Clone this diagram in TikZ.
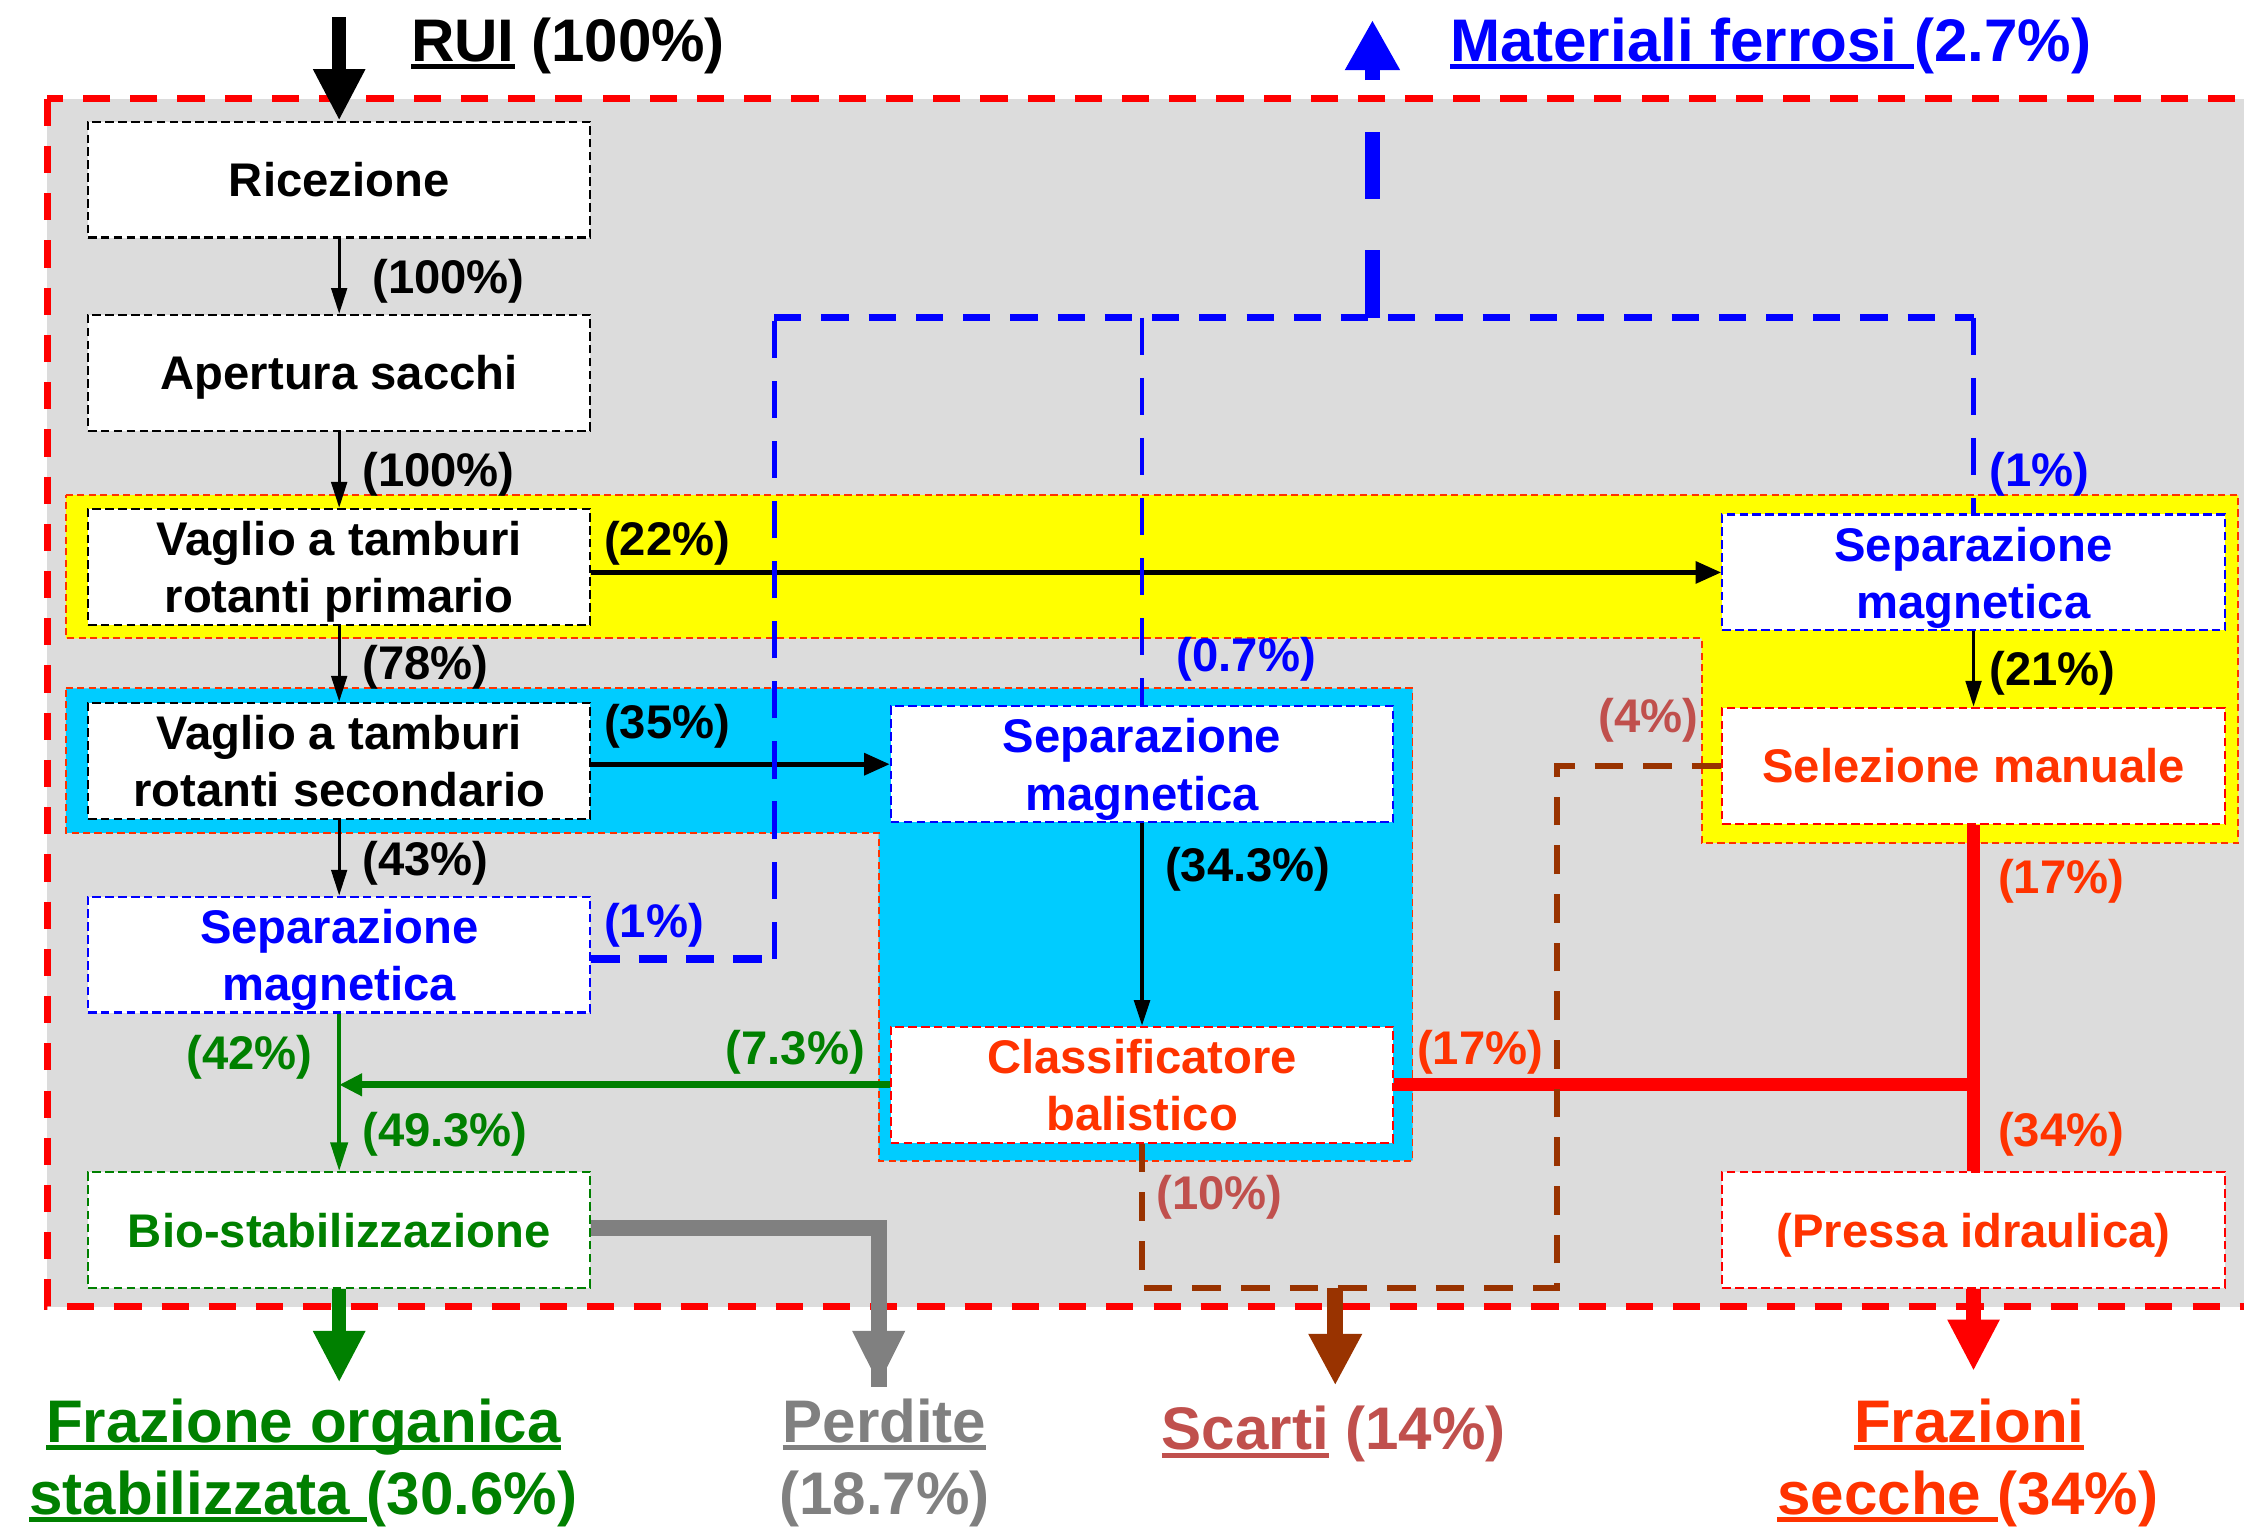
\documentclass[tikz,border=0pt]{standalone}
\usepackage{fontspec}
\setmainfont{Liberation Sans}
\usetikzlibrary{arrows.meta}
\definecolor{bgrey}{HTML}{DCDCDC}
\definecolor{cyanb}{HTML}{00CCFF}
\definecolor{yel}{HTML}{FFFF00}
\definecolor{ored}{HTML}{FF3300}
\definecolor{dgreen}{HTML}{008000}
\definecolor{mred}{HTML}{C0504D}
\definecolor{brn}{HTML}{993300}
\definecolor{gry}{HTML}{808080}
\definecolor{pblue}{HTML}{0000FF}
\definecolor{pred}{HTML}{FF0000}
\newcommand{\myul}[1]{\setbox0\hbox{#1}\rlap{\rule[-5.5pt]{\wd0}{3.5pt}}\box0\relax}
\tikzset{
  procbox/.style={draw=#1, fill=white, minimum width=351pt, minimum height=81pt,
    inner sep=0pt, align=center, line width=1.5pt, dash pattern=on 6pt off 3pt,
    text height=24pt, text depth=0pt},
  twoline/.style={text height=64pt, text depth=0pt},
  lab/.style={anchor=base west, inner sep=0pt},
  bigl/.style={font=\bfseries\fontsize{42}{50}\selectfont, inner sep=0pt, anchor=base},
  regionb/.style={draw=ored, line width=1.3pt, dash pattern=on 5pt off 3pt},
  thinarr/.style={line width=2pt, -{Triangle[width=11pt,length=18pt]}},
  midarr/.style={line width=3.5pt, -{Triangle[width=15pt,length=18pt]}},
  fatarr/.style={line width=10pt, -{Triangle[width=34pt,length=36pt]}},
  bdash/.style={pblue, dash pattern=on 20pt off 14pt},
  brdash/.style={brn, line width=4pt, dash pattern=on 20pt off 14pt},
}
\begin{document}
\begin{tikzpicture}[x=1pt,y=-1pt, font=\bfseries\fontsize{33}{40}\selectfont]
\useasboundingbox (0,0) rectangle (1568,1067);
\clip (0,0) rectangle (1568,1067);
% outer frame
\draw[pred, line width=5pt, dash pattern=on 19pt off 14pt, fill=bgrey] (33,69) rectangle (1620,913);
% coloured regions
\draw[regionb, fill=yel] (46,346) -- (1564,346) -- (1564,589) -- (1189,589) -- (1189,446) -- (46,446) -- cycle;
\draw[regionb, fill=cyanb] (46,481) -- (987,481) -- (987,811) -- (614,811) -- (614,582) -- (46,582) -- cycle;

% boxes
\node[procbox=black] (ric) at (237,125.5) {Ricezione};
\node[procbox=black] (ape) at (237,260.5) {Apertura sacchi};
\node[procbox=black, twoline] (vp) at (237,396) {Vaglio a tamburi\\rotanti primario};
\node[procbox=black, twoline] (vs) at (237,531.5) {Vaglio a tamburi\\rotanti secondario};
\node[procbox=pblue, text=pblue, twoline] (sml) at (237,667) {Separazione\\magnetica};
\node[procbox=dgreen, text=dgreen] (bio) at (237,859.5) {Bio-stabilizzazione};
\node[procbox=pblue, text=pblue, twoline] (smm) at (798,534) {Separazione\\magnetica};
\node[procbox=pred, text=ored, twoline] (cls) at (798,758) {Classificatore\\balistico};
\node[procbox=pblue, text=pblue, twoline] (smr) at (1379,400) {Separazione\\magnetica};
\node[procbox=pred, text=ored] (sel) at (1379,535) {Selezione manuale};
\node[procbox=pred, text=ored] (pre) at (1379,859.5) {(Pressa idraulica)};

% coordinates
\coordinate (ruitop) at (237,12);
\coordinate (f1) at (541,670);
\coordinate (f2) at (541,222);
\coordinate (f3) at (1379,222);
\coordinate (f4) at (798,222);
\coordinate (f5) at (959,222);
\coordinate (f6) at (959,14);
\coordinate (b1) at (798,900);
\coordinate (b2) at (1088,900);
\coordinate (sc1) at (933,900);
\coordinate (sc2) at (933,968);
\coordinate (pc) at (614,858);
\coordinate (pend) at (614,968);
\coordinate (bioend) at (237,966);
\coordinate (preend) at (1379,958);

% black flows
\draw[fatarr] (ruitop) -- (ric.north);
\draw[thinarr] (ric.south) -- (ape.north);
\draw[thinarr] (ape.south) -- (vp.north);
\draw[thinarr] (vp.south) -- (vs.north);
\draw[thinarr] (vs.south) -- (sml.north);
\draw[midarr] (vp.east |- smr.west) -- (smr.west);
\draw[midarr] (vs.east |- smm.west) -- (smm.west);
\draw[line width=2.5pt, -{Triangle[width=11pt,length=18pt]}] (smm.south) -- (cls.north);
\draw[thinarr] (smr.south) -- (sel.north);

% blue ferrous network
\draw[bdash, line width=6pt, dash pattern=on 20pt off 13pt] (sml.east |- f1) -- (f1);
\draw[bdash, line width=3.5pt, dash pattern=on 26pt off 16pt] (f1) -- (f2);
\draw[bdash, line width=5pt, dash pattern=on 19pt off 14pt] (f2) -- (f3);
\draw[bdash, line width=3pt, dash pattern=on 26pt off 16pt] (f3) -- (smr.north);
\draw[bdash, line width=3pt, dash pattern=on 26pt off 16pt] (f4) -- (smm.north);
\draw[pblue, line width=11pt, dash pattern=on 47pt off 36pt, -{Triangle[width=36pt,length=35pt]}] (f5) -- (f6);

% green flows
\draw[dgreen, line width=2.5pt, -{Triangle[width=12pt,length=20pt]}] (sml.south) -- (bio.north);
\draw[dgreen, line width=5pt, -{Triangle[width=15pt,length=16pt]}] (cls.west) -- (cls.west -| sml.south);
\draw[dgreen, fatarr] (bio.south) -- (bioend);

% grey losses
\draw[gry, line width=11pt] (bio.east |- pc) -- (pc) -- ([yshift=-1pt]pend);
\draw[gry, -{Triangle[width=34pt,length=38pt]}, line width=11pt] ([yshift=40pt]pend) -- (pend);

% red dry fractions
\draw[pred, line width=9pt] (cls.east) -- (cls.east -| sel.south);
\draw[pred, line width=9pt] (sel.south) -- (pre.north);
\draw[pred, fatarr] (pre.south) -- (preend);

% brown rejects
\draw[brdash] (cls.south) -- (b1) -- (b2) -- (sel.west -| b2) -- (sel.west);
\draw[brn, line width=11pt, -{Triangle[width=35pt,length=36pt]}] (sc1) -- (sc2);

% flow labels
\node[lab] (l1) at (260,205) {(100\%)};
\node[lab] (l2) at (253,340) {(100\%)};
\node[lab] (l3) at (422,388) {(22\%)};
\node[lab] (l4) at (253,475) {(78\%)};
\node[lab] (l5) at (422,516) {(35\%)};
\node[lab] (l6) at (253,612) {(43\%)};
\node[lab, text=pblue] (l7) at (422,655) {(1\%)};
\node[lab, text=pblue] (l8) at (822,469) {(0.7\%)};
\node[lab, text=pblue] (l9) at (1390,340) {(1\%)};
\node[lab] (l10) at (1390,479) {(21\%)};
\node[lab] (l11) at (814,616) {(34.3\%)};
\node[lab, text=mred] (l12) at (1117,512) {(4\%)};
\node[lab, text=ored] (l13) at (1396,624) {(17\%)};
\node[lab, text=ored] (l14) at (990,744) {(17\%)};
\node[lab, text=dgreen] (l15) at (507,744) {(7.3\%)};
\node[lab, text=dgreen] (l16) at (130,747) {(42\%)};
\node[lab, text=dgreen] (l17) at (253,801) {(49.3\%)};
\node[lab, text=mred] (l18) at (808,845) {(10\%)};
\node[lab, text=ored] (l19) at (1396,801) {(34\%)};

% titles
\node[bigl, anchor=base west] (rui) at (287,43) {\myul{RUI} (100\%)};
\node[bigl, anchor=base west, text=pblue] (fer) at (1013,43) {\myul{Materiali ferrosi\ }(2.7\%)};
\node[bigl, text=dgreen] (o1) at (212,1008) {\myul{Frazione organica}};
\node[bigl, text=dgreen] (o2) at (212,1058) {\myul{stabilizzata\ }(30.6\%)};
\node[bigl, text=gry] (p1) at (618,1008) {\myul{Perdite}};
\node[bigl, text=gry] (p2) at (618,1058) {(18.7\%)};
\node[bigl, text=mred] (s1) at (932,1013) {\myul{Scarti} (14\%)};
\node[bigl, text=ored] (d1) at (1376,1008) {\myul{Frazioni}};
\node[bigl, text=ored] (d2) at (1375,1058) {\myul{secche\ }(34\%)};
\end{tikzpicture}
\end{document}
